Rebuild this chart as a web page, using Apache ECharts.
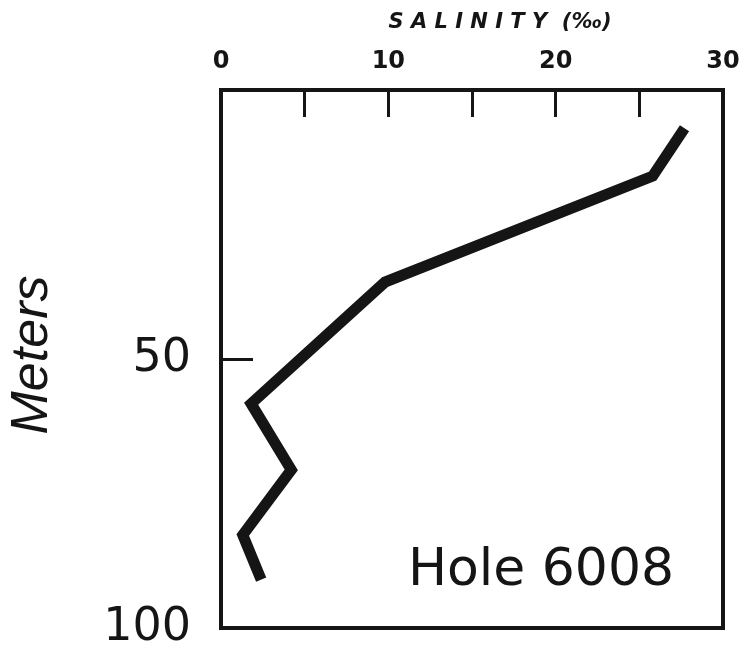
<!DOCTYPE html>
<html>
<head>
<meta charset="utf-8">
<script src="https://cdn.jsdelivr.net/npm/echarts@6/dist/echarts.min.js"></script>
<style>html,body{margin:0;padding:0;background:#fff;}#c{width:747px;height:657px;}</style>
</head>
<body>
<div id="c"></div>
<script>
// Salinity profile, Hole 6008
const salinity = [27.7, 25.8, 9.8, 1.8, 4.2, 1.3, 2.4];
const depth    = [7.1, 16.0, 35.7, 58.3, 70.6, 82.7, 91.0];
const xTickLabels = ['0', '10', '20', '30'];
const yTickLabels = ['50', '100'];

const chart = echarts.init(document.getElementById('c'));
const ink = '#151515';
chart.setOption({
  backgroundColor: '#fff',
  animation: false,
  grid: { left: 221, right: 24, top: 90, bottom: 29, show: true, borderColor: ink, borderWidth: 4, backgroundColor: 'transparent' },
  xAxis: {
    type: 'value', position: 'top', min: 0, max: 30, interval: 5,
    axisLine: { show: false },
    axisTick: { show: true, inside: true, length: 27, lineStyle: { color: ink, width: 3 } },
    splitLine: { show: false },
    axisLabel: {
      margin: 16, color: ink, fontSize: 24, fontFamily: 'DejaVu Sans', fontWeight: 'bold',
      formatter: v => xTickLabels.includes(String(v)) ? String(v) : ''
    }
  },
  yAxis: {
    type: 'value', inverse: true, min: 0, max: 100, interval: 50,
    axisLine: { show: false },
    axisTick: { show: true, inside: true, length: 32, lineStyle: { color: ink, width: 3 } },
    splitLine: { show: false },
    axisLabel: {
      margin: 30, color: ink, fontSize: 46, fontFamily: 'DejaVu Sans',
      formatter: v => yTickLabels.includes(String(v)) ? String(v) : ''
    }
  },
  graphic: [
    { type: 'text', x: 500, y: 23, style: { text: 'S A L I N I T Y  (‰)', align: 'center', verticalAlign: 'middle', fontSize: 21, fontStyle: 'italic', fontWeight: 'bold', fontFamily: 'DejaVu Sans', fill: ink } },
    { type: 'text', x: 33, y: 355, rotation: Math.PI / 2, style: { text: 'Meters', align: 'center', verticalAlign: 'middle', fontSize: 52, fontStyle: 'italic', fontFamily: 'Liberation Sans', fill: ink } },
    { type: 'text', x: 541, y: 571, style: { text: 'Hole 6008', align: 'center', verticalAlign: 'middle', fontSize: 52, fontFamily: 'DejaVu Sans', fill: ink } }
  ],
  series: [{
    type: 'line',
    data: salinity.map((s, i) => [s, depth[i]]),
    showSymbol: false, symbol: 'none',
    lineStyle: { color: ink, width: 11, join: 'miter', cap: 'butt' }
  }]
});
</script>
</body>
</html>
